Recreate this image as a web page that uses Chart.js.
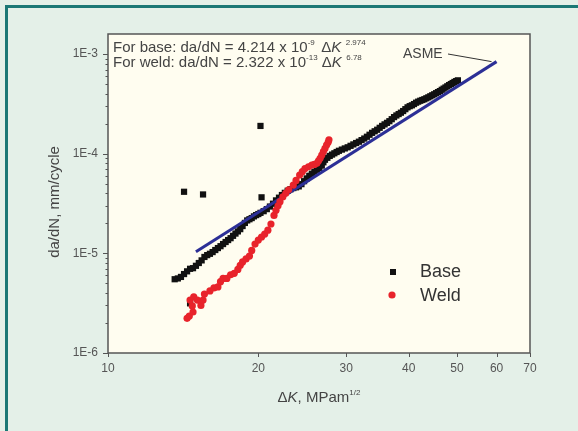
<!DOCTYPE html>
<html>
<head>
<meta charset="utf-8">
<title>da/dN vs ΔK</title>
<script src="https://cdn.jsdelivr.net/npm/chart.js@4.4.1/dist/chart.umd.min.js"></script>
<style>
  html,body{margin:0;padding:0;background:#e4f0e8;}
  #wrap{width:578px;height:431px;position:relative;}
</style>
</head>
<body>
<div id="wrap"><canvas id="c" width="578" height="431"></canvas></div>
<script>
/* crack growth rate, base metal vs weld, log-log */
const FONT = '"Liberation Sans", Arial, sans-serif';

// Base metal: ΔK (MPa·m^1/2) and da/dN (mm/cycle)
const baseK = [13.6,13.8,14.0,14.2,14.4,14.6,14.8,15.0,15.2,15.4,15.6,15.8,16.0,16.2,16.4,16.6,16.8,17.0,17.2,17.4,
  17.6,17.8,18.0,18.2,18.4,18.6,18.8,19.0,19.2,19.4,19.6,19.8,20.0,20.2,20.5,20.8,21.1,21.4,21.7,22.0,
  22.3,22.6,22.9,23.2,23.5,23.8,24.1,24.4,24.7,25.0,25.3,25.6,25.9,26.2,26.5,26.8,27.0,27.2,27.5,27.8,
  28.1,28.4,28.7,29.0,29.4,29.8,30.2,30.6,31.0,31.4,31.8,32.2,32.6,33.0,33.4,33.8,34.2,34.6,35.0,35.4,
  35.8,36.2,36.6,37.0,37.4,37.8,38.2,38.6,39.0,39.4,39.8,40.2,40.6,41.0,41.4,41.8,42.2,42.6,43.0,43.4,
  43.8,44.2,44.6,45.0,45.4,45.8,46.2,46.6,47.0,47.4,47.8,48.2,48.6,49.0,49.4,49.8,50.2,
  14.2,15.5,20.2,20.3,14.6];
const baseRate = [5.5e-6,5.6e-6,5.8e-6,6.2e-6,6.6e-6,7.0e-6,7.1e-6,7.5e-6,8.0e-6,8.5e-6,9.2e-6,9.6e-6,9.9e-6,1.03e-5,1.08e-5,1.13e-5,1.18e-5,1.24e-5,1.30e-5,1.36e-5,
  1.42e-5,1.50e-5,1.58e-5,1.66e-5,1.75e-5,1.88e-5,2.02e-5,2.14e-5,2.20e-5,2.26e-5,2.35e-5,2.42e-5,2.48e-5,2.55e-5,2.65e-5,2.78e-5,2.95e-5,3.15e-5,3.4e-5,3.62e-5,
  3.85e-5,4.05e-5,4.25e-5,4.4e-5,4.52e-5,4.6e-5,4.7e-5,4.95e-5,5.3e-5,5.65e-5,6.0e-5,6.3e-5,6.6e-5,6.9e-5,7.2e-5,7.6e-5,8.2e-5,8.7e-5,9.1e-5,9.5e-5,
  9.8e-5,1.01e-4,1.04e-4,1.07e-4,1.1e-4,1.13e-4,1.16e-4,1.2e-4,1.24e-4,1.28e-4,1.32e-4,1.37e-4,1.42e-4,1.48e-4,1.55e-4,1.62e-4,1.68e-4,1.74e-4,1.82e-4,1.9e-4,
  1.97e-4,2.04e-4,2.12e-4,2.22e-4,2.33e-4,2.42e-4,2.5e-4,2.58e-4,2.68e-4,2.8e-4,2.92e-4,3.0e-4,3.06e-4,3.15e-4,3.25e-4,3.33e-4,3.4e-4,3.46e-4,3.52e-4,3.6e-4,
  3.68e-4,3.77e-4,3.86e-4,3.95e-4,4.05e-4,4.15e-4,4.25e-4,4.38e-4,4.5e-4,4.62e-4,4.75e-4,4.88e-4,5.0e-4,5.12e-4,5.25e-4,5.35e-4,5.45e-4,
  4.15e-5,3.9e-5,1.9e-4,3.65e-5,3.15e-6];

// Weld metal
const weldK = [14.4,14.55,14.8,14.75,14.6,14.85,15.1,15.35,15.5,15.6,16.0,16.3,16.6,16.8,17.0,17.3,17.6,17.9,18.2,18.4,
  18.6,18.9,19.2,19.4,19.7,20.0,20.3,20.6,20.9,21.2,21.5,21.7,21.9,22.1,22.4,22.7,23.0,23.5,23.8,24.2,
  24.5,24.8,25.2,25.6,25.9,26.2,26.4,26.6,26.8,27.0,27.2,27.4,27.6,27.7];
const weldRate = [2.23e-6,2.35e-6,2.58e-6,2.97e-6,3.4e-6,3.66e-6,3.4e-6,3.0e-6,3.4e-6,3.9e-6,4.2e-6,4.5e-6,4.6e-6,5.2e-6,5.6e-6,5.6e-6,6.1e-6,6.3e-6,6.9e-6,7.6e-6,
  8.2e-6,8.8e-6,9.4e-6,1.07e-5,1.24e-5,1.36e-5,1.46e-5,1.56e-5,1.71e-5,1.97e-5,2.4e-5,2.7e-5,3.0e-5,3.3e-5,3.7e-5,4.0e-5,4.35e-5,4.85e-5,5.4e-5,6.1e-5,
  6.6e-5,7.1e-5,7.4e-5,7.7e-5,7.8e-5,8.0e-5,8.5e-5,9.0e-5,9.7e-5,1.05e-4,1.13e-4,1.22e-4,1.3e-4,1.38e-4];

// ASME reference line
const asmeK = [15, 60];
const asmeRate = [1.04e-5, 8.4e-4];

const xTicks = [10,20,30,40,50,60,70];
const yTicks = [1e-6,1e-5,1e-4,1e-3];
const yTickLabels = ['1E-6','1E-5','1E-4','1E-3'];

const pts = (xs, ys) => xs.map((x,i)=>({x, y: ys[i]}));

function rich(ctx, x, y, parts, size, align){
  const fnt = p => (p.it?'italic ':'') + (p.sup ? Math.round(size*0.55) : size) + 'px ' + FONT;
  let w = 0;
  parts.forEach(p=>{ ctx.font = fnt(p); w += ctx.measureText(p.t).width; });
  let cx = align==='center' ? x - w/2 : x;
  parts.forEach(p=>{
    ctx.font = fnt(p);
    ctx.fillText(p.t, cx, p.sup ? y - size*0.45 : y);
    cx += ctx.measureText(p.t).width;
  });
}

const decor = {
  id:'decor',
  beforeDraw(chart){
    const {ctx, chartArea:a, width, height} = chart;
    ctx.save();
    ctx.fillStyle = '#e4f0e8';
    ctx.fillRect(0,0,width,height);
    ctx.fillStyle = '#1b7875';
    ctx.fillRect(5,5,3,height-5);
    ctx.fillRect(5,5,width-5,3);
    ctx.fillStyle = '#fffdf0';
    ctx.fillRect(a.left, a.top, a.right-a.left, a.bottom-a.top);
    ctx.restore();
  },
  afterDraw(chart){
    const {ctx, chartArea:a, scales:{x, y}} = chart;
    ctx.save();
    // frame
    ctx.strokeStyle = '#555';
    ctx.lineWidth = 1.5;
    ctx.strokeRect(a.left, a.top, a.right-a.left, a.bottom-a.top);
    // ticks
    ctx.lineWidth = 1;
    ctx.beginPath();
    xTicks.forEach(v=>{ const px = Math.round(x.getPixelForValue(v))+0.5; ctx.moveTo(px,a.bottom); ctx.lineTo(px,a.bottom+4); });
    for (let e=-6; e<=-3; e++){
      for (let m=1; m<=9; m++){
        const v = m*Math.pow(10,e);
        if (v > y.max) break;
        const py = Math.round(y.getPixelForValue(v))+0.5;
        ctx.moveTo(a.left, py); ctx.lineTo(a.left-(m===1?5:2.5), py);
      }
    }
    ctx.stroke();

    ctx.fillStyle = '#444';
    ctx.textBaseline = 'alphabetic';
    // equations
    rich(ctx, 113, 52, [{t:'For base: da/dN = 4.214 x 10'},{t:'-9 ',sup:1},{t:' \u0394'},{t:'K',it:1},{t:'  2.974',sup:1}], 15, 'left');
    rich(ctx, 113, 67, [{t:'For weld: da/dN = 2.322 x 10'},{t:'-13',sup:1},{t:' \u0394'},{t:'K',it:1},{t:'  6.78',sup:1}], 15, 'left');

    // ASME label and leader
    ctx.font = '14px ' + FONT;
    ctx.textAlign = 'left';
    ctx.fillText('ASME', 403, 58);
    const tx = x.getPixelForValue(asmeK[1]) - 5, ty = y.getPixelForValue(asmeRate[1]);
    ctx.strokeStyle = '#333';
    ctx.lineWidth = 1;
    ctx.beginPath(); ctx.moveTo(448, 54); ctx.lineTo(tx, ty); ctx.stroke();

    // legend
    ctx.fillStyle = '#111';
    ctx.fillRect(390, 269, 6, 6);
    ctx.fillStyle = '#e8232b';
    ctx.beginPath(); ctx.arc(392, 295, 3.6, 0, Math.PI*2); ctx.fill();
    ctx.fillStyle = '#333';
    ctx.font = '18px ' + FONT;
    ctx.textBaseline = 'middle';
    ctx.fillText('Base', 420, 272);
    ctx.fillText('Weld', 420, 296);

    // axis titles
    ctx.fillStyle = '#444';
    ctx.textBaseline = 'alphabetic';
    rich(ctx, (a.left+a.right)/2, 402, [{t:'\u0394'},{t:'K',it:1},{t:', MPam'},{t:'1/2',sup:1}], 15, 'center');
    ctx.save();
    ctx.translate(59, 202);
    ctx.rotate(-Math.PI/2);
    ctx.font = '15px ' + FONT;
    ctx.textAlign = 'center';
    ctx.fillText('da/dN, mm/cycle', 0, 0);
    ctx.restore();
    ctx.restore();
  }
};

new Chart(document.getElementById('c'), {
  type: 'scatter',
  data: {
    datasets: [
      { label:'Weld', data: pts(weldK, weldRate), pointStyle:'circle', pointRadius:3.6, pointBorderWidth:0,
        backgroundColor:'#e8232b', borderColor:'#e8232b', order:0 },
      { label:'ASME', data: pts(asmeK, asmeRate), showLine:true, pointRadius:0, borderColor:'#2c2f96',
        borderWidth:3, order:1 },
      { label:'Base', data: pts(baseK, baseRate), pointStyle:'rect', pointRadius:4.4, pointBorderWidth:0,
        backgroundColor:'#111', borderColor:'#111', order:2 }
    ]
  },
  options: {
    responsive:false,
    animation:false,
    devicePixelRatio:1,
    events:[],
    layout:{ padding:{ top:34, right:48, left:0, bottom:0 } },
    plugins:{ legend:{display:false}, tooltip:{enabled:false} },
    scales:{
      x:{
        type:'logarithmic', min:10, max:70,
        grid:{display:false, drawTicks:false}, border:{display:false},
        afterBuildTicks: s => { s.ticks = xTicks.map(v=>({value:v})); },
        afterFit: s => { s.height = 78; },
        ticks:{ autoSkip:false, maxRotation:0, padding:8, color:'#555', font:{family:FONT, size:12},
          callback: v => String(v) }
      },
      y:{
        type:'logarithmic', min:1e-6, max:1.59e-3,
        grid:{display:false, drawTicks:false}, border:{display:false},
        afterBuildTicks: s => { s.ticks = yTicks.map(v=>({value:v})); },
        afterFit: s => { s.width = 108; },
        ticks:{ autoSkip:false, padding:10, color:'#555', font:{family:FONT, size:12},
          callback: v => yTickLabels[yTicks.indexOf(v)] ?? '' }
      }
    }
  },
  plugins:[decor]
});
</script>
</body>
</html>
